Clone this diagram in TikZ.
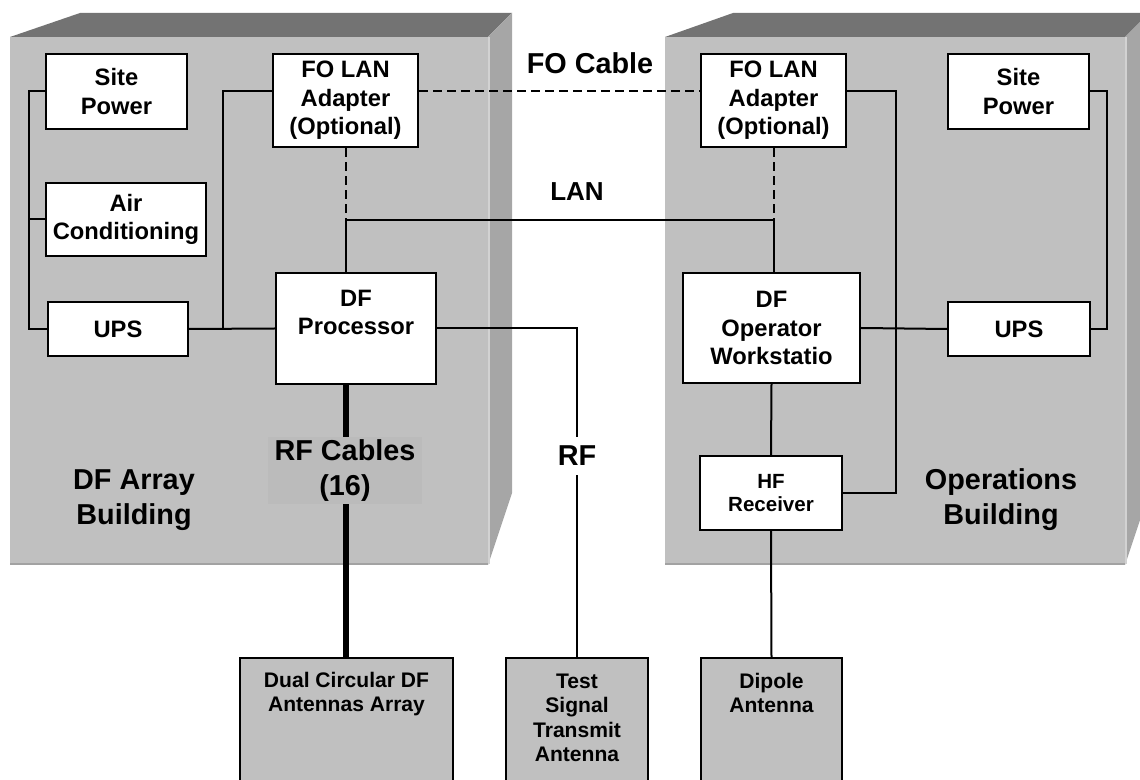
\documentclass[tikz,border=0pt]{standalone}
\usepackage{fontspec}
\setmainfont{Liberation Sans}
\usetikzlibrary{calc}

\definecolor{face}{HTML}{C0C0C0}
\definecolor{roof}{HTML}{737373}
\definecolor{wall}{HTML}{A6A6A6}
\definecolor{edgelight}{HTML}{D2D2D2}
\definecolor{edgedark}{HTML}{A2A2A2}
\definecolor{tagfill}{HTML}{BBBBBB}

\newcommand\fUnit{\fontsize{17.8}{21.4}\selectfont\bfseries}
\newcommand\fAnt{\fontsize{15.8}{18.3}\selectfont\bfseries}
\newcommand\fRx{\fontsize{15.4}{17.3}\selectfont\bfseries}
\newcommand\fBig{\fontsize{21.6}{26.2}\selectfont\bfseries}
\newcommand\fLan{\fontsize{19.5}{23}\selectfont\bfseries}

\begin{document}
\begin{tikzpicture}[x=0.75pt,y=-0.75pt,
  conn/.style={line width=1.5pt},
  fodash/.style={line width=1.5pt, dash pattern=on 6.75pt off 3.75pt},
  rfbundle/.style={line width=4.5pt},
  unit/.style 2 args={draw, line width=1.8pt, fill=white, inner sep=0pt,
    minimum width=#1*0.75pt, minimum height=#2*0.75pt, align=center, font=\fUnit},
  antenna/.style={draw, line width=1.8pt, fill=face, inner sep=0pt, anchor=north,
    minimum width=#1*0.75pt, minimum height=200*0.75pt},
  lbl/.style={align=center, inner sep=0pt}]

\useasboundingbox (0,0) rectangle (1140,780);
\clip (0,0) rectangle (1140,780);

% ---- DF array building (left block) ----
\fill[face] (10,37) rectangle (488,565);
\fill[roof] (10,37) -- (80,13) -- (512,13) -- (488,37) -- cycle;
\fill[wall] (488,37) -- (512,13) -- (512,493) -- (488,565) -- cycle;
\draw[edgelight, line width=1.2pt] (489,37) -- (489,564);
\draw[edgedark, line width=1.5pt] (10,564) -- (488,564);

% ---- Operations building (right block) ----
\fill[face] (665,37) rectangle (1125,565);
\fill[roof] (665,37) -- (733,13) -- (1149,13) -- (1125,37) -- cycle;
\fill[wall] (1125,37) -- (1149,13) -- (1149,493) -- (1125,565) -- cycle;
\draw[edgelight, line width=1.2pt] (1126,37) -- (1126,564);
\draw[edgedark, line width=1.5pt] (665,564) -- (1125,564);

% ---- equipment units ----
\node[unit={141}{75}]  (spL)  at (116.5,91.5) {Site\\Power};
\node[unit={160}{73}]  (acL)  at (126,219.5)  {Air\\Conditioning};
\node[unit={140}{54}]  (upsL) at (118,329)    {UPS};
\node[unit={145}{93}]  (foL)  at (345.5,100.5) {FO LAN\\Adapter\\(Optional)};
\node[unit={160}{111}] (dfp)  at (356,328.5)  {};
\node[lbl, font=\fUnit] (dfpT) at (356,312.5) {DF\\Processor};

\node[unit={145}{93}]  (foR)  at (773.5,100.5) {FO LAN\\Adapter\\(Optional)};
\node[unit={141}{75}]  (spR)  at (1018.5,91.5) {Site\\Power};
\node[unit={142}{54}]  (upsR) at (1019,329)   {UPS};
\node[unit={177}{110}] (dfw)  at (771.5,328)  {DF\\Operator\\Workstatio};
\node[unit={142}{74}, font=\fRx] (hf) at (771,493) {HF\\Receiver};

% ---- antennas ----
\node[antenna=213] (dual) at (346.5,657) {};
\node[antenna=142] (test) at (577,657) {};
\node[antenna=141] (dip)  at (771.5,657) {};
\node[lbl, font=\fAnt] (dualT) at (346.5,694) {Dual Circular DF\\Antennas Array};
\node[lbl, font=\fAnt] (testT) at (577,718) {Test\\Signal\\Transmit\\Antenna};
\node[lbl, font=\fAnt] (dipT)  at (771.5,693) {Dipole\\Antenna};

% ---- junction columns ----
\coordinate (bL) at (29,0);
\coordinate (jL) at (223,0);
\coordinate (jR) at (896,0);
\coordinate (pR) at (1107,0);
\path (foL.south) ++(0,72) coordinate (lanL);
\path (foR.south) ++(0,72) coordinate (lanR);

% ---- power wiring, left ----
\draw[conn] (spL.west) -| (bL |- upsL.west) -- (upsL.west);
\draw[conn] (acL.west) -- (acL.west -| bL);
\draw[conn] (upsL.east) -- (dfp.west);
\draw[conn] (foL.west |- spL.east) -| (jL |- upsL.east);

% ---- power wiring, right ----
\draw[conn] (spR.east) -| (pR |- upsR.east) -- (upsR.east);
\draw[conn] (dfw.east) -- (upsR.west);
\draw[conn] (foR.east |- spR.west) -| (jR |- hf.east) -- (hf.east);

% ---- LAN and fibre link ----
\draw[fodash] (foL.east |- spL.east) -- (foR.west |- spL.east);
\draw[fodash] (foL.south) -- (lanL);
\draw[fodash] (foR.south) -- (lanR);
\draw[conn] (lanL) -- (lanR);
\draw[conn] (lanL) -- (lanL |- dfp.north);
\draw[conn] (lanR) -- (lanR |- dfw.north);

% ---- RF paths ----
\draw[conn] (dfp.east) -| (test.north);
\draw[rfbundle] (lanL |- dfp.south) -- (lanL |- dual.north);
\draw[conn] (dfw.south) -- (hf.north);
\draw[conn] (hf.south) -- (dip.north);

% ---- labels ----
\node[lbl, font=\fBig, fill=tagfill, minimum width=154*0.75pt, minimum height=67*0.75pt]
  (rfc) at (345,470.5) {RF Cables\\(16)};
\node[lbl, font=\fBig, fill=white, minimum width=46*0.75pt, minimum height=38*0.75pt]
  (rfT) at (577,456) {RF};
\node[lbl, font=\fBig] (foc)  at (590,63)  {FO Cable};
\node[lbl, font=\fLan] (lanT) at (577,192) {LAN};
\node[lbl, font=\fBig] (bldL) at (134,500) {DF Array\\Building};
\node[lbl, font=\fBig] (bldR) at (1001,500) {Operations\\Building};

\end{tikzpicture}
\end{document}
